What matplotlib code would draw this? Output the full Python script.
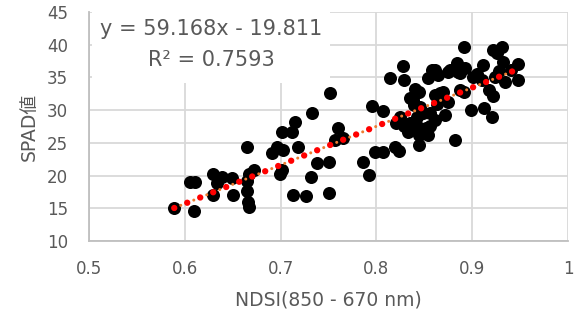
import matplotlib.pyplot as plt
from matplotlib.patches import Rectangle

plt.rcParams['font.family'] = ['DejaVu Sans', 'Noto Sans CJK JP']
plt.rcParams['lines.scale_dashes'] = False

# NDSI(850-670nm) と SPAD値
ndsi = [0.589, 0.605, 0.611, 0.610, 0.629, 0.629, 0.634, 0.639, 0.649, 0.650,
        0.665, 0.667, 0.665, 0.665, 0.666, 0.667, 0.672, 0.691, 0.696, 0.701,
        0.703, 0.699, 0.702, 0.712, 0.715, 0.718, 0.713, 0.727, 0.733, 0.738,
        0.732, 0.752, 0.751, 0.751, 0.760, 0.757, 0.765, 0.795, 0.807, 0.786,
        0.792, 0.799, 0.807, 0.819, 0.824, 0.814, 0.828, 0.829, 0.825, 0.821,
        0.833, 0.835, 0.840, 0.844, 0.839, 0.846, 0.842, 0.849, 0.856, 0.854,
        0.858, 0.861, 0.861, 0.866, 0.870, 0.875, 0.872, 0.856, 0.854, 0.844,
        0.844, 0.882, 0.875, 0.884, 0.885, 0.892, 0.891, 0.887, 0.891, 0.899,
        0.901, 0.912, 0.921, 0.911, 0.910, 0.922, 0.931, 0.926, 0.932, 0.934,
        0.948, 0.948, 0.922, 0.918, 0.941, 0.924, 0.835, 0.842, 0.852, 0.863,
        0.868, 0.864, 0.877, 0.887, 0.850, 0.838, 0.861, 0.829, 0.905, 0.928]
spad = [15.0, 19.0, 19.0, 14.6, 20.2, 17.0, 18.8, 19.8, 19.6, 17.1,
        24.3, 20.3, 19.1, 17.6, 16.0, 15.2, 20.8, 23.4, 24.4, 26.6,
        23.9, 20.3, 20.9, 26.7, 28.2, 24.4, 17.1, 16.9, 29.5, 21.9,
        19.8, 32.6, 22.1, 17.4, 27.2, 25.4, 25.7, 30.7, 29.8, 22.0,
        20.1, 23.6, 23.6, 24.4, 23.8, 34.9, 36.8, 34.6, 29.0, 28.0,
        26.7, 31.8, 33.3, 32.8, 30.8, 30.5, 29.0, 29.5, 29.5, 34.9,
        36.1, 36.1, 32.3, 32.6, 32.8, 31.3, 29.3, 27.5, 26.2, 26.2,
        24.7, 25.4, 35.9, 37.2, 35.9, 36.4, 39.6, 33.1, 32.8, 30.0,
        35.1, 30.3, 28.9, 36.9, 34.6, 39.2, 39.6, 38.7, 37.4, 34.3,
        37.0, 34.6, 32.1, 33.1, 36.1, 35.1, 28.0, 27.5, 27.2, 31.0,
        32.1, 35.4, 36.1, 35.6, 26.5, 31.5, 28.5, 27.5, 35.5, 36.0]

# 近似直線 y = 59.168x - 19.811
slope = 59.168
intercept = -19.811
r2 = 0.7593

gray = '#595959'
grid = '#d9d9d9'

fig = plt.figure(figsize=(5.74, 3.2), dpi=100)
ax = fig.add_axes([0.155, 0.247, 0.8345, 0.7155])

ax.scatter(ndsi, spad, s=88, color='black', zorder=3, linewidths=0)

xs = [min(ndsi), max(ndsi)]
ys = [slope * x + intercept for x in xs]
ax.plot(xs, ys, color='#ed7d31', lw=2.2, dash_capstyle='round',
        linestyle=(5.0, (0.01, 10.08)), zorder=4)
ax.plot(xs, ys, color='red', lw=4.6, dash_capstyle='round',
        linestyle=(0, (0.01, 10.08)), zorder=5)

ax.set_xlim(0.5, 1)
ax.set_ylim(10, 45)
ax.set_xticks([0.5, 0.6, 0.7, 0.8, 0.9, 1])
ax.set_xticklabels(['0.5', '0.6', '0.7', '0.8', '0.9', '1'])
ax.set_yticks(range(10, 46, 5))
ax.grid(True, color=grid, lw=1.3, zorder=0)
ax.set_axisbelow(True)
for side in ['top', 'right']:
    ax.spines[side].set_visible(False)
for side in ['left', 'bottom']:
    ax.spines[side].set_color('#bfbfbf')
    ax.spines[side].set_linewidth(1.3)
ax.tick_params(length=0, labelsize=12, labelcolor=gray)
ax.tick_params(axis='y', pad=15)
ax.tick_params(axis='x', pad=14)

ax.set_xlabel('NDSI(850 - 670 nm)', fontsize=13.5, color=gray, labelpad=9)
ax.set_ylabel('SPAD値', fontsize=13.5, color=gray, labelpad=6)

# 数式ラベルの白い背景
ax.add_patch(Rectangle((0.006, 0.69), 0.497, 0.32, transform=ax.transAxes,
                       facecolor='white', edgecolor='none', zorder=2,
                       clip_on=False))
ax.text(0.256, 0.926, f'y = {slope}x - {abs(intercept)}', transform=ax.transAxes,
        ha='center', va='center', fontsize=15, color=gray, zorder=6)
ax.text(0.256, 0.79, f'R² = {r2}', transform=ax.transAxes,
        ha='center', va='center', fontsize=15, color=gray, zorder=6)

fig.savefig('out.png', dpi=100)
